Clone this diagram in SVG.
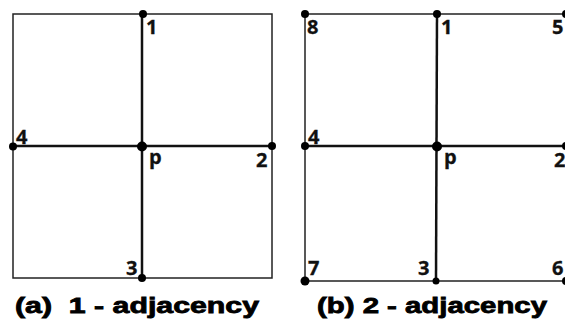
<svg xmlns="http://www.w3.org/2000/svg" width="565" height="323" viewBox="0 0 565 323">
<style>
.thin{stroke:#222;stroke-width:1.5;fill:none}
.thick{stroke:#111;stroke-width:2.5;fill:none}
.dot{fill:#000}
.lbl{font-family:"Open Sans","Liberation Sans",Arial,sans-serif;font-weight:bold;font-size:20px;fill:#111;stroke:#111;stroke-width:0.3}
.cap{font-family:"Liberation Sans",Arial,sans-serif;font-weight:bold;font-size:22px;fill:#000;stroke:#000;stroke-width:0.8}
</style>
<rect width="565" height="323" fill="#fff"/>
<g id="connectors">
<rect class="thin" x="13" y="14" width="259" height="264"/>
<line class="thick" x1="142" y1="14" x2="142" y2="278"/>
<line class="thick" x1="13" y1="146" x2="272" y2="146"/>
<polyline class="thin" points="567,14 305,14 305,281 567,281"/>
<line class="thick" x1="437" y1="14" x2="436" y2="281"/>
<line class="thick" x1="305" y1="146" x2="567" y2="146"/>
</g>
<g id="a-1"><circle class="dot" cx="143" cy="14" r="4"/><text class="lbl" x="146" y="34">1</text></g>
<g id="a-4"><circle class="dot" cx="13" cy="146.5" r="4"/><text class="lbl" x="16" y="144">4</text></g>
<g id="a-p"><circle class="dot" cx="142" cy="146.5" r="5"/><text class="lbl" x="149" y="164">p</text></g>
<g id="a-2"><circle class="dot" cx="272" cy="146" r="4"/><text class="lbl" x="256" y="167">2</text></g>
<g id="a-3"><circle class="dot" cx="142" cy="278" r="4"/><text class="lbl" x="126" y="275">3</text></g>
<g id="b-8"><circle class="dot" cx="305" cy="14" r="4"/><text class="lbl" x="307" y="34">8</text></g>
<g id="b-1"><circle class="dot" cx="437" cy="14" r="4"/><text class="lbl" x="441" y="34">1</text></g>
<g id="b-5"><circle class="dot" cx="566" cy="14" r="4"/><text class="lbl" x="552" y="34">5</text></g>
<g id="b-4"><circle class="dot" cx="305" cy="146" r="4"/><text class="lbl" x="308" y="144">4</text></g>
<g id="b-p"><circle class="dot" cx="437" cy="146.5" r="5"/><text class="lbl" x="444" y="164">p</text></g>
<g id="b-2"><circle class="dot" cx="566" cy="146" r="4"/><text class="lbl" x="554" y="167">2</text></g>
<g id="b-7"><circle class="dot" cx="305" cy="281" r="4.5"/><text class="lbl" x="308" y="275">7</text></g>
<g id="b-3"><circle class="dot" cx="436" cy="281" r="3.5"/><text class="lbl" x="418" y="275">3</text></g>
<g id="b-6"><circle class="dot" cx="566" cy="281" r="4"/><text class="lbl" x="552" y="275">6</text></g>
<text class="cap" x="15" y="313" textLength="244" lengthAdjust="spacingAndGlyphs" xml:space="preserve">(a)  1 - adjacency</text>
<text class="cap" x="317" y="313" textLength="230" lengthAdjust="spacingAndGlyphs">(b) 2 - adjacency</text>
</svg>
